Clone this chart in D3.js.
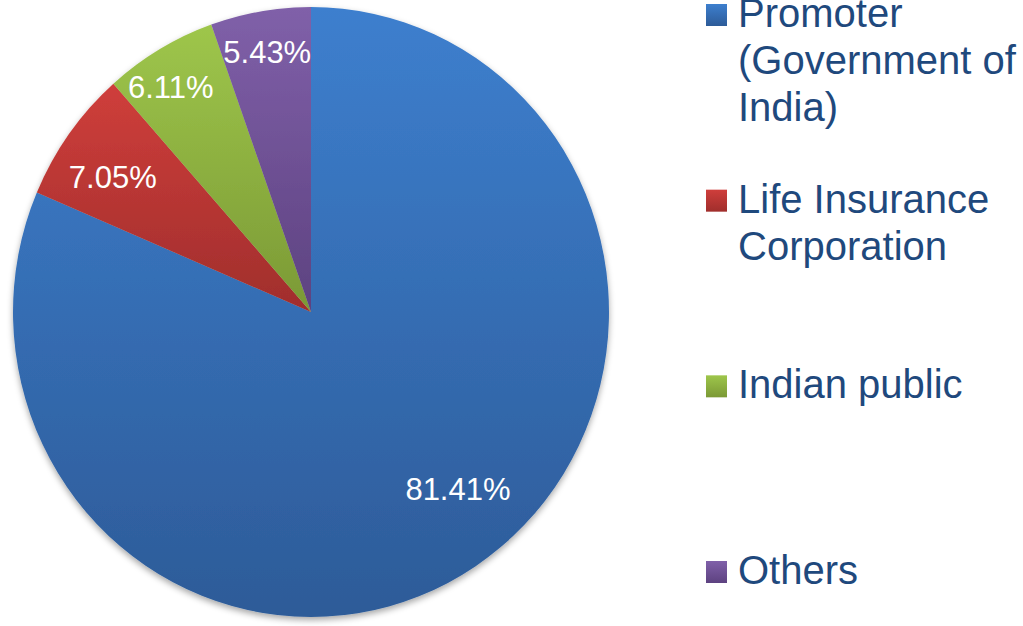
<!DOCTYPE html>
<html>
<head>
<meta charset="utf-8">
<script src="https://cdn.jsdelivr.net/npm/d3@7"></script>
<style>
  html, body { margin: 0; padding: 0; background: #fff; }
  svg { display: block; font-family: "Liberation Sans", Arial, sans-serif; }
</style>
</head>
<body>
<div id="chart"></div>
<script>
// shareholding data
const categories = ["Promoter (Government of India)", "Life Insurance Corporation", "Indian public", "Others"];
const legendLines = [["Promoter", "(Government of", "India)"], ["Life Insurance", "Corporation"], ["Indian public"], ["Others"]];
const shares = [81.41, 7.05, 6.11, 5.43];

// top / bottom gradient colours per slice
const topColors = ["#3d7fce", "#cf3e3b", "#9ec64b", "#8060a9"];
const bottomColors = ["#2d5b98", "#a02e2c", "#7b9935", "#5d4280"];

const width = 1023, height = 626;
const cx = 311, cy = 312, rx = 298, ry = 305;

const svg = d3.select("#chart").append("svg")
    .attr("width", width)
    .attr("height", height);

const defs = svg.append("defs");

// soft shadow under the pie
const shadow = defs.append("filter").attr("id", "shadow")
    .attr("x", "-10%").attr("y", "-10%").attr("width", "120%").attr("height", "120%");
shadow.append("feDropShadow")
    .attr("dx", 0).attr("dy", 3).attr("stdDeviation", 3)
    .attr("flood-color", "#000").attr("flood-opacity", 0.35);

categories.forEach((c, i) => {
    const g = defs.append("linearGradient").attr("id", "grad" + i)
        .attr("x1", 0).attr("y1", 0).attr("x2", 0).attr("y2", 1);
    g.append("stop").attr("offset", "0%").attr("stop-color", topColors[i]);
    g.append("stop").attr("offset", "100%").attr("stop-color", bottomColors[i]);
});

const pie = d3.pie().sort(null).value(d => d)(shares);
const arc = d3.arc().innerRadius(0).outerRadius(rx);

const pieG = svg.append("g")
    .attr("transform", `translate(${cx},${cy}) scale(1,${ry / rx})`)
    .attr("filter", "url(#shadow)");

pieG.selectAll("path")
    .data(pie)
    .enter()
    .append("path")
    .attr("d", arc)
    .attr("fill", (d, i) => `url(#grad${i})`);

// label placement (fraction of radius, angle nudge in degrees)
const labelRadius = [0.76, 0.80, 0.875, 0.865];
const labelNudge = [-7, -2, -2, 0];

svg.append("g").selectAll("text")
    .data(pie)
    .enter()
    .append("text")
    .attr("x", (d, i) => {
        const a = (d.startAngle + d.endAngle) / 2 + labelNudge[i] * Math.PI / 180;
        return cx + Math.sin(a) * rx * labelRadius[i];
    })
    .attr("y", (d, i) => {
        const a = (d.startAngle + d.endAngle) / 2 + labelNudge[i] * Math.PI / 180;
        return cy - Math.cos(a) * ry * labelRadius[i];
    })
    .attr("dy", "0.36em")
    .attr("text-anchor", "middle")
    .attr("fill", "#fff")
    .attr("font-size", 31)
    .text(d => d.value.toFixed(2) + "%");

// legend
const legendY = d3.scaleLinear().domain([0, 3]).range([27, 584]);

const legend = svg.append("g").selectAll("g")
    .data(categories)
    .enter()
    .append("g")
    .attr("transform", (d, i) => `translate(706,${legendY(i)})`);

legend.append("rect")
    .attr("x", 0)
    .attr("y", -23)
    .attr("width", 21)
    .attr("height", 22)
    .attr("fill", (d, i) => `url(#grad${i})`);

legend.append("text")
    .attr("x", 32)
    .attr("y", 0)
    .attr("fill", "#1f497d")
    .attr("font-size", 40)
    .selectAll("tspan")
    .data((d, i) => legendLines[i])
    .enter()
    .append("tspan")
    .attr("x", 32)
    .attr("dy", (d, j) => j === 0 ? 0 : 47)
    .text(d => d);
</script>
</body>
</html>
